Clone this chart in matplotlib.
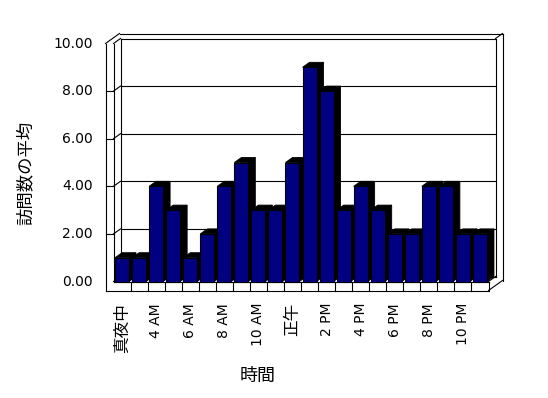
import matplotlib
matplotlib.use("Agg")
import matplotlib.pyplot as plt
from matplotlib.patches import Polygon, Rectangle

# ---- data ----
categories = ['真夜中', '1 AM', '4 AM', '5 AM', '6 AM', '7 AM', '8 AM', '9 AM',
              '10 AM', '11 AM', '正午', '1 PM', '2 PM', '3 PM', '4 PM', '5 PM',
              '6 PM', '7 PM', '8 PM', '9 PM', '10 PM', '11 PM']
values = [1, 1, 4, 3, 1, 2, 4, 5, 3, 3, 5, 9, 8, 3, 4, 3, 2, 2, 4, 4, 2, 2]
y_ticks = [0, 2, 4, 6, 8, 10]
y_title = '訪問数の平均'
x_title = '時間'

W, H = 548, 398
fig = plt.figure(figsize=(W / 100, H / 100), dpi=100)
fig.patch.set_facecolor('white')
AX_L, AX_B, AX_W, AX_H = 113.5, 116.5, 375.0, 238.0
ax = fig.add_axes([AX_L / W, AX_B / H, AX_W / W, AX_H / H])
n = len(categories)
x0, x1 = -0.5, n - 0.5
ax.set_xlim(x0, x1)
ax.set_ylim(0, 10)
ax.axis('off')

pxx = AX_W / n
pxy = AX_H / 10
DX, DY = 7 / pxx, 5 / pxy      # depth offset
LS = 8 / pxx                   # left wall thickness
FT = 9 / pxy                   # floor thickness


def line(xs, ys, z=1):
    ax.plot(xs, ys, color='black', lw=0.8, clip_on=False,
            solid_capstyle='projecting', zorder=z)


# gridlines (back wall + left wall)
for v in y_ticks:
    line([x0 + DX, x1 + DX], [v + DY, v + DY])
    line([x0, x0 + DX], [v, v + DY])
    if 0 < v < 10:
        line([x0 - LS, x0], [v, v])

# back wall inner verticals
line([x0 + DX] * 2, [DY, 10 + DY])
line([x1 + DX] * 2, [DY, 10 + DY])
# outer top edge and corners
line([x0 - LS + 2 * DX, x1 + 2 * DX], [10 + 2 * DY] * 2)
line([x0 - LS, x0 - LS + 2 * DX], [10, 10 + 2 * DY])
line([x1 + DX, x1 + 2 * DX], [10 + DY, 10 + 2 * DY])
line([x1 + 2 * DX] * 2, [-FT + 2 * DY, 10 + 2 * DY])
# left wall front strip
line([x0 - LS] * 2, [-FT, 10])
line([x0] * 2, [0, 10])
# floor
line([x0 - LS, x1, x1], [-FT, -FT, 0])
line([x0, x1], [0, 0])
line([x1, x1 + 2 * DX], [-FT, -FT + 2 * DY])
line([x1, x1 + DX], [0, DY])
for i in range(n - 1):
    line([i + 0.5] * 2, [-FT, 0])

# bars
hw = 0.41
for i, v in enumerate(values):
    z = 2 + i * 0.01
    side = Polygon([(i + hw, 0), (i + hw + DX, DY), (i + hw + DX, v + DY), (i + hw, v)],
                   closed=True, facecolor='black', edgecolor='black', lw=0.6,
                   clip_on=False, zorder=z)
    top = Polygon([(i - hw, v), (i - hw + DX, v + DY), (i + hw + DX, v + DY), (i + hw, v)],
                  closed=True, facecolor='black', edgecolor='black', lw=0.6,
                  clip_on=False, zorder=z)
    ax.add_patch(side)
    ax.add_patch(top)
    front = Rectangle((i - hw, 0), 2 * hw, v, facecolor='#000080',
                      edgecolor='black', lw=0.8, clip_on=False, zorder=z + 0.005)
    ax.add_patch(front)

# y tick labels
xl = x0 - 21 / pxx
for v in y_ticks:
    ax.text(xl, v, f'{v:.2f}', ha='right', va='center', fontsize=10,
            family=['DejaVu Sans'], clip_on=False)

# x tick labels (every other category)
ylab = -21.5 / pxy
for i in range(0, n, 2):
    lab = categories[i]
    is_cjk = any(ord(c) > 0x2000 for c in lab)
    ax.text(i, ylab, lab, rotation=90, ha='center', va='top',
            fontsize=12 if is_cjk else 10,
            family=['Noto Sans CJK JP', 'DejaVu Sans'] if is_cjk else ['DejaVu Sans'],
            clip_on=False)

fig.text(26 / W, 1 - 173 / H, y_title, rotation=90, ha='center', va='center',
         fontsize=12.5, family=['Noto Sans CJK JP', 'DejaVu Sans'])
fig.text(258 / W, 1 - 376 / H, x_title, ha='center', va='center',
         fontsize=13, family=['Noto Sans CJK JP', 'DejaVu Sans'])

fig.savefig('out.png', dpi=100, facecolor='white')
